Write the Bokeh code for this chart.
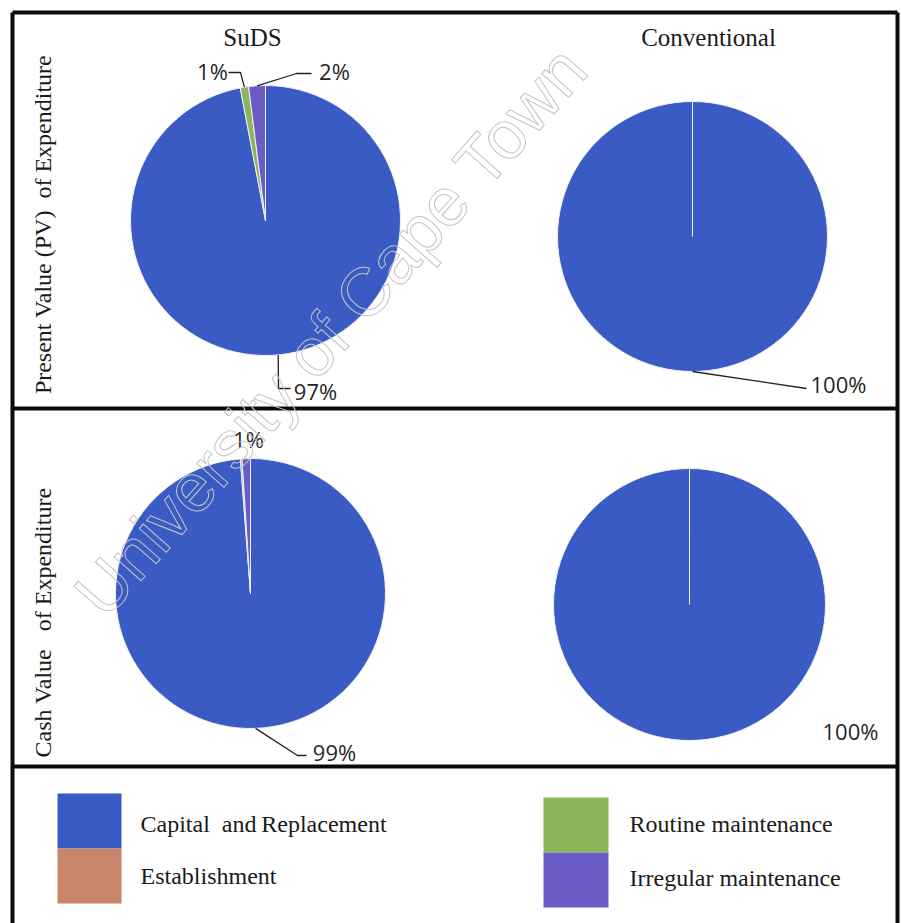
import numpy as np
from bokeh.plotting import figure
from bokeh.models import Range1d
from bokeh.core.properties import value
from bokeh.embed import file_html
from bokeh.resources import INLINE

W, H = 901, 923

# ---- data -------------------------------------------------------------
categories = ["Capital and Replacement", "Establishment",
              "Routine maintenance", "Irregular maintenance"]
colors = ["#3A5AC4", "#C8856A", "#8DB55A", "#6B5BC6"]

pv_suds = [97.0, 0.0, 1.0, 2.0]
pv_conventional = [100.0, 0.0, 0.0, 0.0]
cash_suds = [98.8, 0.0, 0.2, 1.0]
cash_conventional = [100.0, 0.0, 0.0, 0.0]

column_titles = ["SuDS", "Conventional"]
row_titles = ["Present Value (PV)\u00a0 of Expenditure",
              "Cash Value \u00a0\u00a0of Expenditure"]

# ---- canvas (1 data unit = 1 px, y measured from the top via Y()) -----
p = figure(width=W, height=H, x_range=Range1d(0, W), y_range=Range1d(0, H),
           output_backend="svg", toolbar_location=None, min_border=0,
           x_axis_location=None, y_axis_location=None)
p.grid.visible = False
p.outline_line_color = None
p.background_fill_color = "white"
p.border_fill_color = "white"


def Y(y):
    return H - y


SERIF = value("Liberation Serif")
SANS = value("Open Sans")


def pie(vals, cx, cy, r, label_layout):
    total = float(sum(vals))
    fr = [v / total for v in vals]
    cum = np.concatenate([[0.0], np.cumsum(fr)])
    for i, f in enumerate(fr):
        if f <= 0:
            continue
        a0 = np.pi / 2 - 2 * np.pi * cum[i]
        a1 = np.pi / 2 - 2 * np.pi * min(cum[i + 1], cum[i] + 0.99999)
        p.wedge(x=cx, y=Y(cy), radius=r, start_angle=a0, end_angle=a1,
                direction="clock", fill_color=colors[i],
                line_color="#EEF1FA", line_width=1)
    for i, f in enumerate(fr):
        pct = int(round(vals[i] / total * 100))
        if pct < 1 or i not in label_layout:
            continue
        (tx, ty), elbow = label_layout[i]
        if elbow:
            am = np.pi / 2 - 2 * np.pi * (cum[i] + f / 2)
            xs = [cx + r * np.cos(am)] + [e[0] for e in elbow]
            ys = [Y(cy) + r * np.sin(am)] + [Y(e[1]) for e in elbow]
            p.line(xs, ys, line_color="#222222", line_width=1.3)
        p.text(x=[tx], y=[Y(ty)], text=[f"{pct}%"], text_font=SANS,
               text_font_size="22px", text_color="#262626",
               text_align="center", text_baseline="middle")


# top row: present value
pie(pv_suds, 265, 220, 135, {
    0: ((315, 390), [(278, 388), (290, 388)]),
    2: ((212, 70), [(240, 72), (228, 72)]),
    3: ((334, 70), [(296, 73), (311, 73)]),
})
pie(pv_conventional, 692, 236, 135, {
    0: ((838, 383), [(806, 388)]),
})
# bottom row: cash value
pie(cash_suds, 250, 593, 135, {
    0: ((334, 751), [(297, 755), (306, 755)]),
    3: ((248, 438), None),
})
pie(cash_conventional, 689, 604, 136, {
    0: ((850, 730), None),
})

# column and row titles
for t, x in zip(column_titles, [252, 708]):
    p.text(x=[x], y=[Y(37)], text=[t], text_font=SERIF, text_font_size="25px",
           text_color="#1A1A1A", text_align="center", text_baseline="middle")
for t, yc in zip(row_titles, [224, 622]):
    p.text(x=[42], y=[Y(yc)], text=[t], text_font=SERIF, text_font_size="24px",
           text_color="#1A1A1A", text_align="center", text_baseline="middle",
           angle=np.pi / 2)

# legend panel
leg_x = [(57, 121), (57, 121), (543, 608), (543, 608)]
leg_y = [(793, 848), (848, 903), (797, 852), (852, 907)]
leg_tx = [140, 140, 629, 629]
leg_ty = [823, 875, 823, 877]
leg_text = ["Capital \u00a0and\u2009Replacement", "Establishment",
            "Routine maintenance", "Irregular maintenance"]
p.quad(left=[a for a, _ in leg_x], right=[b for _, b in leg_x],
       top=[Y(a) for a, _ in leg_y], bottom=[Y(b) for _, b in leg_y],
       fill_color=colors, line_color=None)
p.text(x=leg_tx, y=[Y(v) for v in leg_ty], text=leg_text, text_font=SERIF,
       text_font_size="24px", text_color="#1A1A1A", text_baseline="middle")

# frame
FL, FR, FT, FB = 12, 897, 12, 930
p.multi_line(xs=[[FL, FR], [FL, FL], [FR, FR], [FL, FR], [FL, FR]],
             ys=[[Y(FT), Y(FT)], [Y(FT), Y(FB)], [Y(FT), Y(FB)],
                 [Y(408), Y(408)], [Y(766), Y(766)]],
             line_color="#0A0A0A", line_width=4)

# watermark, kept fully inside the page
p.text(x=[330], y=[Y(330)], text=["University of Cape Town"],
       text_font=value("Liberation Sans"), text_font_size="68px",
       text_color=(255, 255, 255, 0.0), text_outline_color="#C4C4C4",
       text_align="center", text_baseline="middle", angle=np.deg2rad(48.5))

open("out.html", "w").write(file_html(p, INLINE))
